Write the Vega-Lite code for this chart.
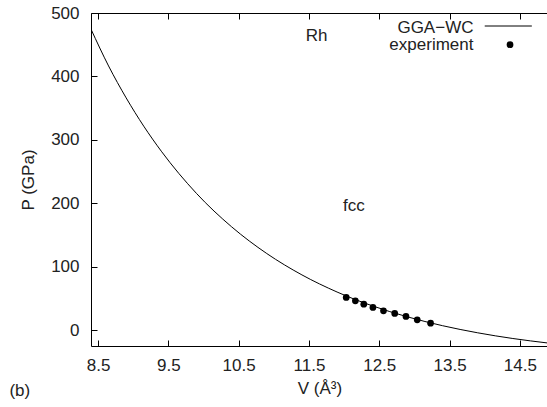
{
  "$schema": "https://vega.github.io/schema/vega-lite/v6.json",
  "width": 457,
  "height": 333,
  "autosize": "none",
  "padding": {"left": 91, "top": 13, "right": 0, "bottom": 61},
  "background": "white",
  "config": {
    "view": {"stroke": "black", "strokeWidth": 1},
    "font": "Liberation Sans",
    "axis": {
      "grid": false,
      "domain": false,
      "labelFont": "Liberation Sans",
      "titleFont": "Liberation Sans",
      "labelFontSize": 17,
      "titleFontSize": 17,
      "titleFontWeight": "normal",
      "labelColor": "#222",
      "titleColor": "#222",
      "tickColor": "black",
      "tickSize": -6
    }
  },
  "datasets": {
    "curve": [
      {"V": 8.4, "P": 474.5}, {"V": 8.65, "P": 416.5}, {"V": 8.9, "P": 366.2},
      {"V": 9.15, "P": 321.6}, {"V": 9.4, "P": 282.1}, {"V": 9.9, "P": 215.6},
      {"V": 10.4, "P": 162.9}, {"V": 10.9, "P": 120.8}, {"V": 11.4, "P": 87.1},
      {"V": 11.9, "P": 60.1}, {"V": 12.4, "P": 38.4}, {"V": 12.9, "P": 21.0},
      {"V": 13.4, "P": 7.0}, {"V": 13.9, "P": -4.2}, {"V": 14.4, "P": -13.2},
      {"V": 14.9, "P": -20.3}
    ],
    "exp": [
      {"V": 12.03, "P": 51.6}, {"V": 12.16, "P": 46.2}, {"V": 12.28, "P": 41.0},
      {"V": 12.41, "P": 35.8}, {"V": 12.56, "P": 30.4}, {"V": 12.72, "P": 26.3},
      {"V": 12.88, "P": 21.6}, {"V": 13.04, "P": 16.2}, {"V": 13.23, "P": 11.0}
    ],
    "labels": [
      {"V": 11.61, "P": 464, "t": "Rh"},
      {"V": 12.14, "P": 196, "t": "fcc"}
    ],
    "legtext": [
      {"V": 13.84, "P": 476, "t": "GGA−WC"},
      {"V": 13.84, "P": 450, "t": "experiment"}
    ],
    "legline": [{"V": 14.0, "V2": 14.67, "P": 479.5}],
    "legdot": [{"V": 14.36, "P": 450}],
    "panel": [{"V": 7.24, "P": -96, "t": "(b)"}]
  },
  "resolve": {"axis": {"x": "independent", "y": "independent"}},
  "layer": [
    {
      "data": {"name": "curve"},
      "mark": {"type": "line", "color": "black", "strokeWidth": 1, "interpolate": "monotone", "clip": true},
      "encoding": {
        "x": {"field": "V", "type": "quantitative",
              "scale": {"domain": [8.4, 14.9], "nice": false, "zero": false},
              "axis": {"orient": "bottom", "values": [8.5, 9.5, 10.5, 11.5, 12.5, 13.5, 14.5], "format": ".1f", "title": "V (Å³)", "labelPadding": 17, "titlePadding": 7}},
        "y": {"field": "P", "type": "quantitative",
              "scale": {"domain": [-25, 500], "nice": false, "zero": false},
              "axis": {"orient": "left", "values": [0, 100, 200, 300, 400, 500], "title": "P (GPa)", "labelPadding": 18, "titlePadding": 13}}
      }
    },
    {
      "data": {"name": "exp"},
      "mark": {"type": "point", "filled": true, "color": "black", "size": 45, "opacity": 1},
      "encoding": {
        "x": {"field": "V", "type": "quantitative", "axis": {"orient": "top", "values": [8.5, 9.5, 10.5, 11.5, 12.5, 13.5, 14.5], "labels": false, "title": null}},
        "y": {"field": "P", "type": "quantitative", "axis": null}
      }
    },
    {
      "data": {"name": "labels"},
      "mark": {"type": "text", "fontSize": 17, "color": "#222", "align": "center", "baseline": "middle"},
      "encoding": {
        "x": {"field": "V", "type": "quantitative", "axis": null},
        "y": {"field": "P", "type": "quantitative", "axis": null},
        "text": {"field": "t"}
      }
    },
    {
      "data": {"name": "legtext"},
      "mark": {"type": "text", "fontSize": 17, "color": "#222", "align": "right", "baseline": "middle"},
      "encoding": {
        "x": {"field": "V", "type": "quantitative", "axis": null},
        "y": {"field": "P", "type": "quantitative", "axis": null},
        "text": {"field": "t"}
      }
    },
    {
      "data": {"name": "legline"},
      "mark": {"type": "rule", "color": "black", "strokeWidth": 1},
      "encoding": {
        "x": {"field": "V", "type": "quantitative", "axis": null},
        "x2": {"field": "V2"},
        "y": {"field": "P", "type": "quantitative", "axis": null}
      }
    },
    {
      "data": {"name": "legdot"},
      "mark": {"type": "point", "filled": true, "color": "black", "size": 45, "opacity": 1},
      "encoding": {
        "x": {"field": "V", "type": "quantitative", "axis": null},
        "y": {"field": "P", "type": "quantitative", "axis": null}
      }
    },
    {
      "data": {"name": "panel"},
      "mark": {"type": "text", "fontSize": 17, "color": "#222", "align": "left", "baseline": "middle"},
      "encoding": {
        "x": {"field": "V", "type": "quantitative", "axis": null},
        "y": {"field": "P", "type": "quantitative", "axis": null},
        "text": {"field": "t"}
      }
    }
  ]
}
